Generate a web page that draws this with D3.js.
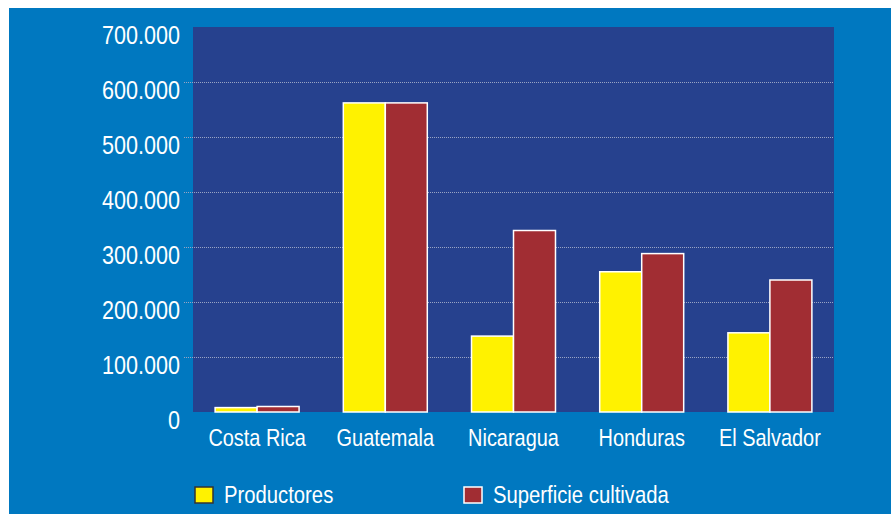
<!DOCTYPE html>
<html>
<head>
<meta charset="utf-8">
<script src="https://cdn.jsdelivr.net/npm/d3@7"></script>
<style>
  html, body { margin: 0; padding: 0; background: #ffffff; }
  svg { display: block; }
  text { font-family: "Liberation Sans Narrow", "Arial Narrow", "Liberation Sans", Arial, sans-serif; fill: #ffffff; }
</style>
</head>
<body>
<svg id="chart" width="893" height="514"></svg>
<script>
// Countries, in drawing order
const categories = ["Costa Rica", "Guatemala", "Nicaragua", "Honduras", "El Salvador"];
// Series names
const seriesNames = ["Productores", "Superficie cultivada"];
// Values per series
const productores = [8000, 562000, 138000, 255000, 144000];
const superficie = [10000, 562000, 330000, 288000, 240000];
// Y axis ticks
const yTicks = [0, 100000, 200000, 300000, 400000, 500000, 600000, 700000];

const colors = { page: "#0078c0", plot: "#26418e", yellow: "#fff200", red: "#a12d33", grid: "#9aa4c4" };
const seriesColors = [colors.yellow, colors.red];
const seriesValues = [productores, superficie];

// Horizontal squeeze giving a condensed face from the regular sans
const narrow = 0.83;

const svg = d3.select("#chart");
const plot = { left: 193, right: 834, top: 27, bottom: 412 };

// Page background
svg.append("rect").attr("x", 9).attr("y", 8).attr("width", 882).attr("height", 506).attr("fill", colors.page);

// Plot area
svg.append("rect")
  .attr("x", plot.left).attr("y", plot.top)
  .attr("width", plot.right - plot.left).attr("height", plot.bottom - plot.top)
  .attr("fill", colors.plot);

const x0 = d3.scaleBand().domain(categories).range([plot.left, plot.right])
  .paddingInner(0.345).paddingOuter(0.1725);
const x1 = d3.scaleBand().domain(seriesNames).range([0, x0.bandwidth()]);
const y = d3.scaleLinear().domain([0, 700000]).range([plot.bottom, plot.top]);

const fmt = v => d3.format(",")(v).replace(/,/g, ".");

// Dotted gridlines
svg.append("g").selectAll("line")
  .data(yTicks.filter(v => v > 0 && v < 700000))
  .join("line")
  .attr("x1", 184).attr("x2", plot.right - 1)
  .attr("y1", d => Math.round(y(d)) + 0.5).attr("y2", d => Math.round(y(d)) + 0.5)
  .attr("stroke", colors.grid).attr("stroke-width", 1).attr("stroke-dasharray", "1,1");

// Y axis labels
const yAxis = d3.axisLeft(y).tickValues(yTicks).tickFormat(fmt).tickSize(0).tickPadding(0);
const gy = svg.append("g").attr("transform", "translate(180,0)").call(yAxis);
gy.select(".domain").remove();
gy.selectAll("text")
  .attr("font-size", 26).attr("fill", "#ffffff").attr("dy", null)
  .attr("x", 0).attr("y", 0)
  .attr("transform", `translate(0,16) scale(${narrow},1)`);

// Bars
const groups = svg.append("g").selectAll("g")
  .data(categories)
  .join("g")
  .attr("transform", d => `translate(${x0(d)},0)`);

groups.selectAll("rect")
  .data((d, i) => seriesNames.map((s, k) => ({ s, v: seriesValues[k][i], c: seriesColors[k] })))
  .join("rect")
  .attr("x", d => x1(d.s))
  .attr("y", d => y(d.v))
  .attr("width", x1.bandwidth())
  .attr("height", d => y(0) - y(d.v))
  .attr("fill", d => d.c)
  .attr("stroke", "#ffffff")
  .attr("stroke-width", 1.5);

// Category labels
const xAxis = d3.axisBottom(x0).tickSize(0).tickPadding(0);
const gx = svg.append("g").attr("transform", `translate(0,${plot.bottom})`).call(xAxis);
gx.select(".domain").remove();
gx.selectAll("text")
  .attr("font-size", 24).attr("fill", "#ffffff").attr("dy", null)
  .attr("y", 0).attr("x", 0)
  .attr("transform", `translate(0,34) scale(${narrow},1)`);

// Legend
const legendItems = [
  { name: seriesNames[0], color: colors.yellow, stroke: "#333333", x: 195 },
  { name: seriesNames[1], color: colors.red, stroke: "#ffffff", x: 464 }
];
const lg = svg.append("g").selectAll("g").data(legendItems).join("g")
  .attr("transform", d => `translate(${d.x},487)`);
lg.append("rect").attr("width", 18).attr("height", 16)
  .attr("fill", d => d.color).attr("stroke", d => d.stroke).attr("stroke-width", 1.5);
lg.append("text")
  .attr("transform", `translate(29,16) scale(0.845,1)`)
  .attr("font-size", 24).text(d => d.name);
</script>
</body>
</html>
